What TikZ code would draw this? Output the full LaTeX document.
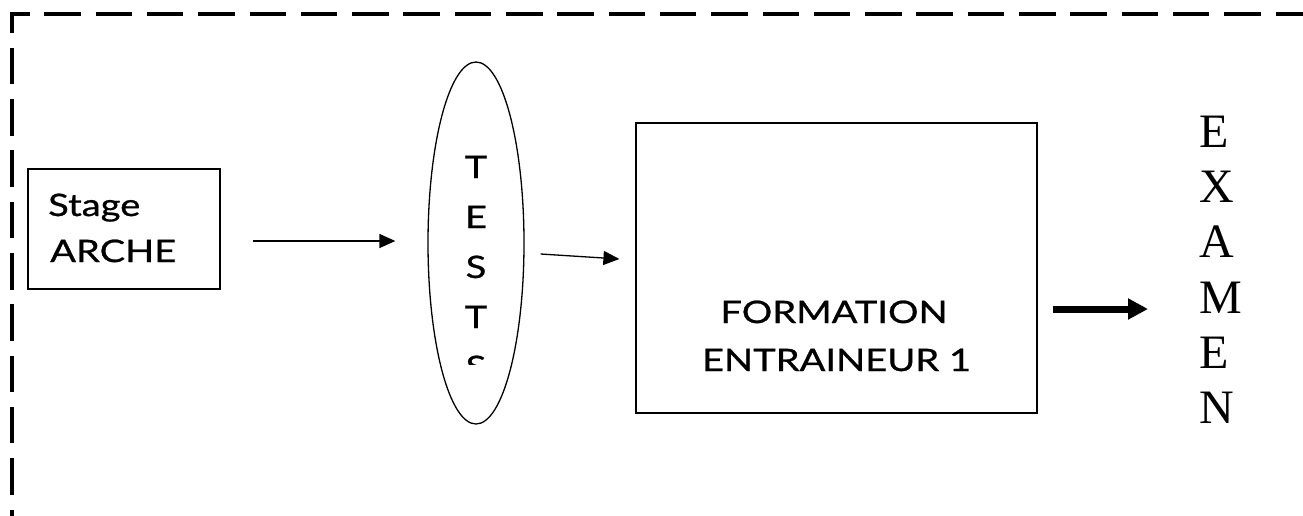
\documentclass[tikz,border=0pt]{standalone}
\usepackage{fontspec}
\newfontfamily\handfont[FakeStretch=1.23,FakeBold=0.8]{Lato}
\newfontfamily\examfont{Liberation Serif}
\usetikzlibrary{arrows.meta,shapes.geometric}
\begin{document}
\begin{tikzpicture}[x=1pt,y=-1pt,
  frameline/.style={line width=4.5pt,dash pattern=on 36.5pt off 14.8pt,dash phase=16pt},
  boxnode/.style={draw,line width=1.2pt,rectangle,inner sep=0pt},
  ovalnode/.style={draw,line width=1.3pt,ellipse,inner sep=0pt,minimum width=96pt,minimum height=362pt},
  handtxt/.style={font=\handfont\fontsize{31}{37}\selectfont,inner sep=0pt},
  examtxt/.style={font=\examfont\fontsize{48}{55}\selectfont,inner sep=0pt,anchor=base west},
  thinarrow/.style={line width=1.3pt,-{Triangle[length=16pt,width=14pt]}},
  bigarrow/.style={line width=7pt,-{Triangle[length=20pt,width=20pt]}}]
\useasboundingbox (0,0) rectangle (1303,515);
\fill[white] (0,0) rectangle (1303,515);
\begin{scope}
  \clip (0,0) rectangle (1303,515);
  \draw[frameline] (12,530) -- (12,14) -- (1340,14);
\end{scope}
% Stage ARCHE box
\node[boxnode,minimum width=192pt,minimum height=120pt] (stage) at (124,229) {};
\node[handtxt,anchor=base west] (stagea) at (48,216) {Stage};
\node[handtxt,anchor=base west] (stageb) at (50,262) {ARCHE};
% TESTS ellipse
\node[ovalnode] (test) at (476,243) {};
\begin{scope}
  \clip (420,60) rectangle (532,364.5);
  \foreach \l/\yy [count=\i] in {T/178,E/228,S/278,T/328,S/378}
    \node[handtxt,anchor=base] (t\i) at (476,\yy) {\l};
\end{scope}
% Formation box
\node[boxnode,minimum width=401pt,minimum height=290pt] (form) at (836.5,268) {};
\node[handtxt,anchor=base] (forma) at (834,323) {FORMATION};
\node[handtxt,anchor=base] (formb) at (836.5,371) {ENTRAINEUR 1};
% EXAMEN
\foreach \l/\yy [count=\i] in {E/147,X/202,A/257,M/313,E/368,N/423}
  \node[examtxt] (e\i) at (1199,\yy) {\l};
\coordinate (examin) at (1148,309);
% connectors
\draw[thinarrow] ([xshift=32pt,yshift=-12pt]stage.east) -- ([xshift=-32pt,yshift=2pt]test.west);
\draw[thinarrow] ([xshift=16pt,yshift=-11pt]test.east) -- ([xshift=-16pt,yshift=9pt]form.west);
\draw[bigarrow] ([xshift=15pt,yshift=-41pt]form.east) -- (examin);
\end{tikzpicture}
\end{document}
